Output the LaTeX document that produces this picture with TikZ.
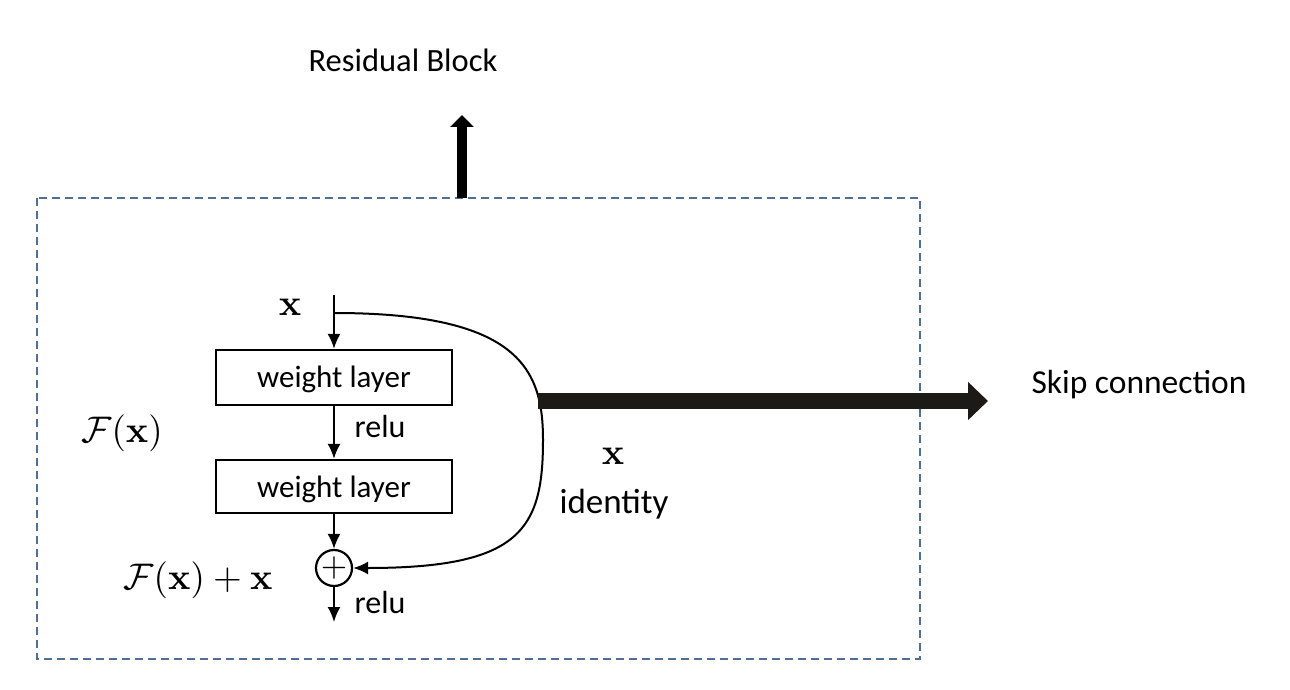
\documentclass[tikz,border=0pt]{standalone}
\usepackage[no-math]{fontspec}
\setmainfont{Carlito}
\usetikzlibrary{arrows.meta}
\definecolor{dashblue}{RGB}{80,110,150}
\definecolor{thickblack}{RGB}{28,26,22}
\tikzset{
  wbox/.style={draw, line width=2.2pt, minimum width=236pt, inner sep=0pt},
  thinarrow/.style={line width=2pt, -{Latex[length=15pt,width=13pt]}},
  sanstext/.style={anchor=base, inner sep=0pt, font=\fontsize{32}{38}\selectfont},
  mathtext/.style={inner sep=0pt, scale=3.7},
}
\begin{document}
\begin{tikzpicture}[x=1pt,y=-1pt]
\useasboundingbox (0,0) rectangle (1290,690);
% dashed frame
\draw[dashblue, line width=1.7pt, dash pattern=on 8pt off 5pt] (37,198) rectangle (920,659);
% texts
\node[sanstext, font=\fontsize{32.5}{38}\selectfont] (title) at (403,72) {Residual Block};
\node[sanstext, font=\fontsize{33.5}{38}\selectfont] (skiplab) at (1139,393) {Skip connection};
% boxes
\node[wbox, minimum height=55pt] (box1) at (334,377.5) {};
\node[sanstext, font=\fontsize{31}{36}\selectfont] (t1) at (334,387) {weight layer};
\node[wbox, minimum height=53pt] (box2) at (334,486.5) {};
\node[sanstext, font=\fontsize{31}{36}\selectfont] (t2) at (334,497) {weight layer};
\node[draw, circle, line width=2.2pt, minimum size=36pt, inner sep=0pt] (plus) at (334,568) {};
\node[inner sep=0pt, scale=3.4] (plussign) at (plus.center) {$+$};
% coordinates
\coordinate (xin) at (334,295);
\coordinate (split) at (334,313);
\coordinate (out) at (334,622);
\coordinate (bulge) at (543,440);
% labels
\node[mathtext] (xlab) at (290,307) {$\mathbf{x}$};
\node[mathtext] (Flab) at (122,433) {$\mathcal{F}(\mathbf{x})$};
\node[mathtext] (Fxlab) at (198,580) {$\mathcal{F}(\mathbf{x})+\mathbf{x}$};
\node[mathtext] (xright) at (613,456) {$\mathbf{x}$};
\node[sanstext, font=\fontsize{35}{40}\selectfont] (ident) at (614,513) {identity};
\node[sanstext] (relu1) at (380,437) {relu};
\node[sanstext] (relu2) at (380,613) {relu};
% arrows
\draw[thinarrow] (xin) -- (box1.north);
\draw[thinarrow] (box1.south) -- (box2.north);
\draw[thinarrow] (box2.south) -- (plus.north);
\draw[thinarrow] (plus.south) -- (out);
\draw[thinarrow] (split) .. controls (520,313) and (543,370) .. (bulge)
   .. controls (543,530) and (520,568) .. (plus.east);
% thick arrows
\coordinate (topstart) at (462,198);
\coordinate (toptip) at (462,115);
\draw[line width=10pt, -{Triangle[length=12pt,width=23pt]}] (topstart) -- (toptip);
\coordinate (skipstart) at (538,401);
\coordinate (skiptip) at (988,401);
\draw[thickblack, line width=16pt, -{Triangle[length=20pt,width=37pt]}] (skipstart) -- (skiptip);
\end{tikzpicture}
\end{document}
